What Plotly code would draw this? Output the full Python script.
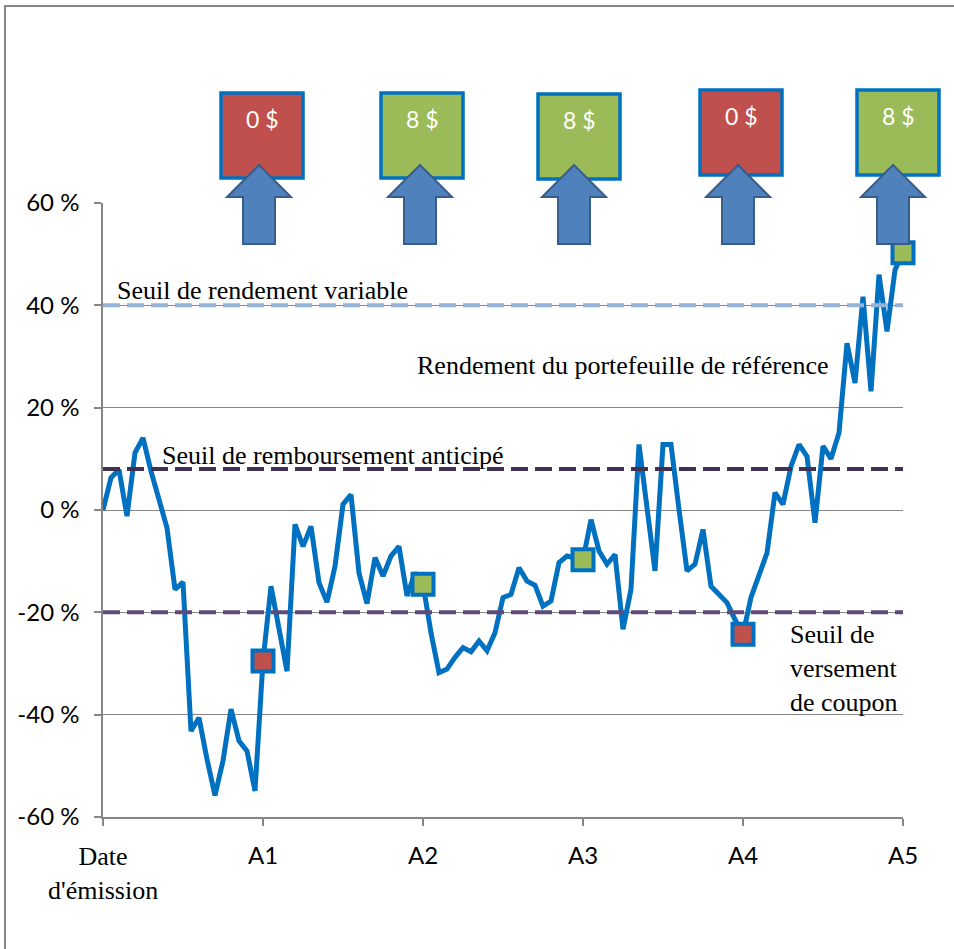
import plotly.graph_objects as go

# Rendement du portefeuille de référence (%), 20 observations par année
rendement = [
    0.0, 6.3, 7.9, -1.2, 11.2, 14.1, 7.6, 1.7, -3.5, -15.5,
    -14.1, -43.2, -40.6, -48.7, -55.8, -49.0, -38.9, -45.1, -47.1, -54.9,
    -29.5, -14.9, -23.3, -31.5, -2.8, -7.1, -3.2, -14.2, -18.0, -11.0,
    1.1, 3.0, -12.3, -18.3, -9.3, -12.9, -9.0, -7.1, -16.8, -12.3,
    -14.5, -24.0, -31.8, -31.1, -28.8, -26.9, -27.7, -25.6, -27.5, -24.0,
    -17.1, -16.5, -11.3, -13.9, -14.7, -18.8, -17.8, -10.3, -9.0, -9.3,
    -9.7, -1.9, -8.0, -10.6, -8.7, -23.3, -15.5, 12.8, 0.1, -11.9,
    12.8, 12.8, 0.1, -11.9, -10.6, -3.8, -14.9, -16.5, -18.1, -21.4,
    -24.3, -17.1, -12.9, -8.4, 3.4, 1.1, 8.5, 12.8, 10.5, -2.5,
    12.5, 10.0, 15.1, 32.6, 24.8, 41.7, 23.2, 46.0, 34.9, 46.9,
    50.3,
]
PAS_PAR_ANNEE = 20
annees = [i / PAS_PAR_ANNEE for i in range(len(rendement))]

echeances = [1, 2, 3, 4, 5]
etiquettes_x = ["A1", "A2", "A3", "A4", "A5"]
coupons = ["0 $", "8 $", "8 $", "0 $", "8 $"]

seuils = [40, 8, -20]
seuil_noms = ["Seuil de rendement variable", "Seuil de remboursement anticipé",
              "Seuil de versement de coupon"]

graduations_y = [-60, -40, -20, 0, 20, 40, 60]
etiquettes_y = ["-60 %", "-40 %", "-20 %", "0 %", "20 %", "40 %", "60 %"]

BLEU = '#0070C0'
ROUGE = '#C0504D'
VERT = '#9BBB59'
GRIS = '#868686'
SEUIL_COULEURS = ['#95B3D7', '#403152', '#604A7B']
SERIF = 'Liberation Serif, Times New Roman, serif'
SANS = 'Lato, Calibri, sans-serif'

# zone de tracé en pixels
W, H = 954, 949
G, D, HAUT, BAS = 103, 903, 203, 817


def px_x(px):
    return (px - G) / (D - G)


def px_y(py):
    return (BAS - py) / (BAS - HAUT)


fig = go.Figure()

fig.add_trace(go.Scatter(x=annees, y=rendement, mode='lines',
                         line=dict(color=BLEU, width=5),
                         name='Rendement du portefeuille de référence'))

for v, nom, c in zip(seuils, seuil_noms, SEUIL_COULEURS):
    fig.add_trace(go.Scatter(x=[0, echeances[-1]], y=[v, v], mode='lines',
                             line=dict(color=c, width=4, dash='17px,7px'),
                             name=nom))

obs_y = [rendement[annees.index(a)] for a in echeances]
obs_couleurs = [ROUGE if c.startswith('0') else VERT for c in coupons]
fig.add_trace(go.Scatter(x=echeances, y=obs_y, mode='markers', cliponaxis=False,
                         marker=dict(symbol='square', size=21, color=obs_couleurs,
                                     line=dict(color=BLEU, width=4)),
                         name='Observations'))

# boîtes des coupons et flèches
boite_dx = [-1, -1, -4, -2, -5]
boite_haut = [93, 93, 94, 90, 90]
fleche_dx = [-4, -3, -9, -5, -10]
shapes = []
annotations = []
for i, a in enumerate(echeances):
    cx = G + a * (D - G) / echeances[-1]
    bx = cx + boite_dx[i]
    shapes.append(dict(type='rect', xref='paper', yref='paper',
                       x0=px_x(bx - 41), x1=px_x(bx + 41),
                       y0=px_y(boite_haut[i]), y1=px_y(boite_haut[i] + 85),
                       fillcolor=obs_couleurs[i], line=dict(color=BLEU, width=3.5)))
    annotations.append(dict(x=px_x(bx), y=px_y(boite_haut[i] + 26), xref='paper', yref='paper',
                            text=coupons[i], showarrow=False,
                            xanchor='center', yanchor='middle',
                            font=dict(family=SANS, size=23, color='white')))
    fx = cx + fleche_dx[i]
    pts = [(fx, 165), (fx + 32, 197), (fx + 16, 197), (fx + 16, 244),
           (fx - 16, 244), (fx - 16, 197), (fx - 32, 197)]
    path = 'M ' + ' L '.join(f'{px_x(p):.5f},{px_y(q):.5f}' for p, q in pts) + ' Z'
    shapes.append(dict(type='path', xref='paper', yref='paper', path=path,
                       fillcolor='#4F81BD', line=dict(color='#385D8A', width=2)))

# cadre
shapes.append(dict(type='rect', xref='paper', yref='paper',
                   x0=px_x(5), x1=px_x(1200), y0=px_y(6), y1=px_y(1200),
                   line=dict(color='#878787', width=2), fillcolor='rgba(0,0,0,0)'))

textes = [
    ("Seuil de rendement variable", 115, 290),
    ("Rendement du portefeuille de référence", 415, 365),
    ("Seuil de remboursement anticipé", 160, 455),
    ("Seuil de<br>versement<br>de coupon", 788, 668),
]
for t, x, y in textes:
    annotations.append(dict(x=px_x(x), y=px_y(y), xref='paper', yref='paper',
                            text=t, showarrow=False, xanchor='left', yanchor='middle',
                            align='left', font=dict(family=SERIF, size=26, color='black')))

annotations.append(dict(x=0, y=px_y(873), xref='x', yref='paper',
                        text="Date<br>d'émission", showarrow=False,
                        xanchor='center', yanchor='middle',
                        font=dict(family=SERIF, size=26, color='black')))

fig.update_layout(
    width=W, height=H,
    margin=dict(l=G, r=W - D, t=HAUT, b=H - BAS),
    paper_bgcolor='white', plot_bgcolor='white',
    showlegend=False,
    shapes=shapes, annotations=annotations,
)
fig.update_xaxes(range=[0, echeances[-1]], tickvals=[0] + echeances,
                 ticktext=[''] + etiquettes_x, showgrid=False, zeroline=False,
                 showline=True, linecolor=GRIS, linewidth=1.5,
                 ticks='outside', ticklen=7, tickcolor=GRIS, tickwidth=1.5,
                 ticklabelstandoff=9,
                 tickfont=dict(family=SANS, size=24, color='black'))
fig.update_yaxes(range=[-60, 60], tickvals=graduations_y, ticktext=etiquettes_y,
                 showgrid=True, gridcolor=GRIS, gridwidth=1.3, zeroline=False,
                 showline=True, linecolor=GRIS, linewidth=1.5,
                 ticks='outside', ticklen=7, tickcolor=GRIS, tickwidth=1.5,
                 ticklabelstandoff=10,
                 tickfont=dict(family=SANS, size=24, color='black'))

fig.write_html("out.html", config={'displayModeBar': False},
               post_script="document.body.style.margin = '0';")
